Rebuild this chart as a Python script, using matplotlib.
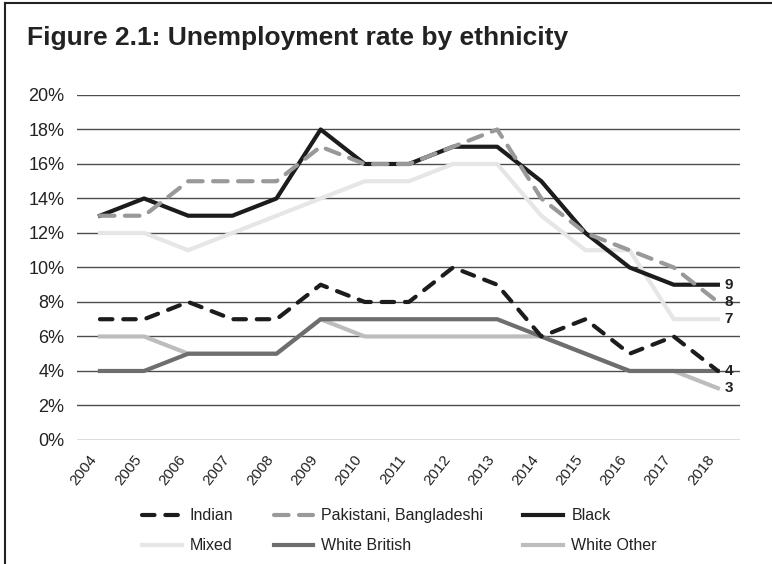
import matplotlib.pyplot as plt
from matplotlib.lines import Line2D

plt.rcParams['font.family'] = ['Liberation Sans', 'DejaVu Sans']

years = list(range(2004, 2019))
indian = [7, 7, 8, 7, 7, 9, 8, 8, 10, 9, 6, 7, 5, 6, 4]
pakistani = [13, 13, 15, 15, 15, 17, 16, 16, 17, 18, 14, 12, 11, 10, 8]
black = [13, 14, 13, 13, 14, 18, 16, 16, 17, 17, 15, 12, 10, 9, 9]
mixed = [12, 12, 11, 12, 13, 14, 15, 15, 16, 16, 13, 11, 11, 7, 7]
white_british = [4, 4, 5, 5, 5, 7, 7, 7, 7, 7, 6, 5, 4, 4, 4]
white_other = [6, 6, 5, 5, 5, 7, 6, 6, 6, 6, 6, 5, 4, 4, 3]
yticks = [0, 2, 4, 6, 8, 10, 12, 14, 16, 18, 20]

text_col = '#222222'
fig = plt.figure(figsize=(7.72, 5.64), dpi=100)
ax = fig.add_axes([0.0997, 0.2199, 0.8588, 0.6117])

# drawing order: light lines first, dashed on top
h_mixed, = ax.plot(years, mixed, color='#e6e6e6', lw=3, zorder=3, label='Mixed')
h_wo, = ax.plot(years, white_other, color='#bdbdbd', lw=3, zorder=4, label='White Other')
h_wb, = ax.plot(years, white_british, color='#6e6e6e', lw=3, zorder=5, label='White British')
h_black, = ax.plot(years, black, color='#1c1c1c', lw=3, zorder=6, label='Black')
h_pak, = ax.plot(years, pakistani, color='#999999', lw=3, zorder=7, dashes=(3.5, 2.5),
                 dash_capstyle='round', label='Pakistani, Bangladeshi')
h_ind, = ax.plot(years, indian, color='#1c1c1c', lw=3, zorder=8, dashes=(3.0, 2.6),
                 dash_capstyle='round', label='Indian')

# end values
for series in [black, pakistani, mixed, indian, white_other]:
    ax.annotate(str(series[-1]), xy=(years[-1], series[-1]), xytext=(5, 0),
                textcoords='offset points', va='center', ha='left',
                fontsize=11, fontweight='bold', color=text_col, annotation_clip=False)

ax.set_xlim(2003.48, 2018.5)
ax.set_ylim(0, 20)
ax.set_yticks(yticks)
ax.set_yticklabels([str(v) + '%' for v in yticks])
ax.set_xticks(years)
ax.set_xticklabels([str(y) for y in years], rotation=52, ha='right', va='top')
ax.tick_params(axis='y', length=0, pad=9, labelsize=13, labelcolor=text_col)
ax.tick_params(axis='x', length=0, pad=9, labelsize=11, labelcolor=text_col)
ax.grid(axis='y', color='#4d4d4d', lw=1.0)
ax.set_axisbelow(True)
for s in ax.spines.values():
    s.set_visible(False)

fig.text(0.035, 0.920, 'Figure 2.1: Unemployment rate by ethnicity', fontsize=19,
         fontweight='bold', color=text_col, va='baseline')

handles = [h_ind, h_mixed, h_pak, h_wb, h_black, h_wo]
fig.legend(handles=handles, labels=[h.get_label() for h in handles], ncol=3,
           loc='upper left', bbox_to_anchor=(0.184, 0.099), frameon=False,
           borderaxespad=0, borderpad=0, fontsize=11.5, handlelength=2.5,
           handletextpad=0.5, columnspacing=2.5, labelspacing=0.95,
           labelcolor=text_col)

# frame round the figure (left and top edges only are visible)
fig.add_artist(Line2D([5 / 772, 5 / 772], [0, 1 - 3 / 564], color='#222222', lw=1.5))
fig.add_artist(Line2D([5 / 772, 1], [1 - 3 / 564, 1 - 3 / 564], color='#222222', lw=1.5))

fig.savefig('out.png', dpi=100)
